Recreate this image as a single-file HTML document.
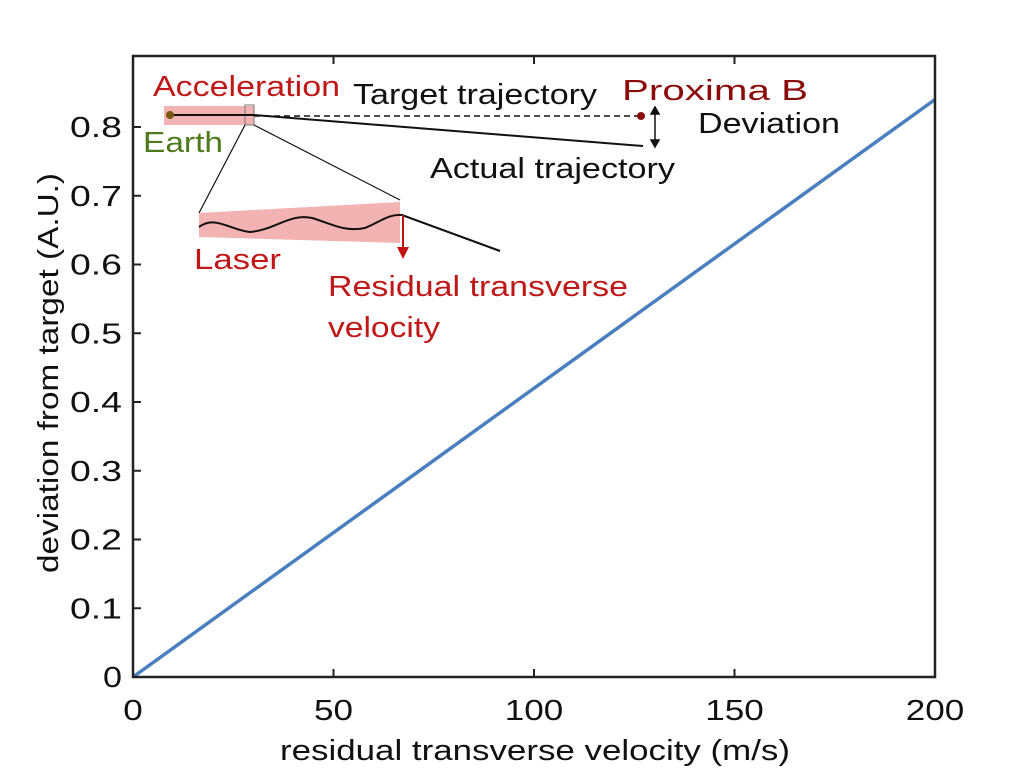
<!DOCTYPE html>
<html><head><meta charset="utf-8"><style>
html,body{margin:0;padding:0;background:#fff;}
svg{display:block;font-family:"Liberation Sans",sans-serif;}
</style></head><body>
<svg id="chart" width="1024" height="768" viewBox="0 0 1024 768">
<g id="plot"></g>
</svg>
<script>
const xTicks=[0,50,100,150,200];
const yTicks=[0,0.1,0.2,0.3,0.4,0.5,0.6,0.7,0.8];
const lineX=[0,200];
const lineY=[0,0.84];
const L=133,R=935,T=56,B=677;
const xs=v=>L+(v-0)/(200-0)*(R-L);
const ys=v=>B-v/0.8*(B-127);
const NS="http://www.w3.org/2000/svg";
const svg=document.getElementById('chart');
function mk(tag,attrs,text){const e=document.createElementNS(NS,tag);for(const k in attrs)e.setAttribute(k,attrs[k]);if(text!==undefined)e.textContent=text;svg.appendChild(e);return e;}
let pts=lineX.map((x,i)=>xs(x)+','+ys(lineY[i])).join(' ');
let ln=mk('polyline',{points:pts,fill:'none',stroke:'#4a7fbf','stroke-width':3.5});


let bx=mk('rect',{x:L,y:T,width:R-L,height:B-T,fill:'none',stroke:'#222','stroke-width':2.5});


xTicks.forEach(v=>{
 const x=xs(v);
 let t=mk('line',{x1:x,y1:B,x2:x,y2:B-8,stroke:'#222','stroke-width':2});
 
 
 let t2=mk('line',{x1:x,y1:T,x2:x,y2:T+8,stroke:'#222','stroke-width':2});
 
 
 const s=String(v);
 let l=mk('text',{x:x,y:B+43,'text-anchor':'middle','font-size':29,fill:'#111',textLength:s.length*19.5,lengthAdjust:'spacingAndGlyphs'},s);
 
 
});
yTicks.forEach(v=>{
 const y=ys(v);
 let t=mk('line',{x1:L,y1:y,x2:L+8,y2:y,stroke:'#222','stroke-width':2});
 
 
 const s=v===0?'0':v.toFixed(1);
 let l=mk('text',{x:L-11,y:y+10,'text-anchor':'end','font-size':29,fill:'#111',textLength:v===0?19:52,lengthAdjust:'spacingAndGlyphs'},s);
 
 
});
let xt=mk('text',{x:535,y:760,'text-anchor':'middle','font-size':29,fill:'#111',textLength:510,lengthAdjust:'spacingAndGlyphs'},'residual transverse velocity (m/s)');


let yt=mk('text',{x:0,y:0,'text-anchor':'middle','font-size':29,fill:'#111',textLength:400,lengthAdjust:'spacingAndGlyphs',transform:'translate(58,373) rotate(-90)'},'deviation from target (A.U.)');


</script>
<svg style="position:absolute;left:0;top:0" width="1024" height="768" font-family="Liberation Sans, sans-serif">
<rect x="164" y="106" width="90" height="19" fill="#f0a0a0" opacity="0.8"/>
<rect x="245" y="105" width="9" height="20" fill="none" stroke="#777" stroke-width="1"/>
<line x1="254" y1="116" x2="640" y2="116" stroke="#111" stroke-width="1.5" stroke-dasharray="6,4"/>
<polyline points="170,115 254,115 643,146" fill="none" stroke="#111" stroke-width="2"/>
<circle cx="170" cy="115" r="4" fill="#7a5a10"/>
<circle cx="641" cy="116" r="4" fill="#8b0a0a"/>
<g stroke="#111" stroke-width="1.5" fill="#111">
<line x1="655" y1="112" x2="655" y2="142"/>
<polygon points="655,107 651,114 659,114"/><polygon points="655,147 651,140 659,140"/>
</g>
<line x1="245" y1="125" x2="199" y2="213" stroke="#111" stroke-width="1.2"/>
<line x1="254" y1="125" x2="400" y2="200" stroke="#111" stroke-width="1.2"/>
<polygon points="199,213 400,202 400,243 199,237" fill="#f0a0a0" opacity="0.8"/>
<path d="M199,227 C215,215 230,230 250,232 C275,230 290,213 312,218 C335,225 345,232 365,228 C380,222 388,214 402,215 L500,251" fill="none" stroke="#111" stroke-width="2"/>
<g><line x1="403" y1="215" x2="403" y2="250" stroke="#c01010" stroke-width="2"/><polygon points="403,259 397,247 409,247" fill="#c01010"/></g>
<text x="153" y="96" font-size="29" fill="#c01818" textLength="187" lengthAdjust="spacingAndGlyphs">Acceleration</text>
<text x="353" y="104" font-size="29" fill="#111" textLength="244" lengthAdjust="spacingAndGlyphs">Target trajectory</text>
<text x="622" y="100" font-size="29" fill="#8b0a0a" textLength="186" lengthAdjust="spacingAndGlyphs">Proxima B</text>
<text x="698" y="133" font-size="29" fill="#111" textLength="142" lengthAdjust="spacingAndGlyphs">Deviation</text>
<text x="143" y="152" font-size="29" fill="#4e7a1c" textLength="80" lengthAdjust="spacingAndGlyphs">Earth</text>
<text x="430" y="178" font-size="29" fill="#111" textLength="245" lengthAdjust="spacingAndGlyphs">Actual trajectory</text>
<text x="194" y="269" font-size="29" fill="#c01818" textLength="87" lengthAdjust="spacingAndGlyphs">Laser</text>
<text x="328" y="296" font-size="29" fill="#c01818" textLength="300" lengthAdjust="spacingAndGlyphs">Residual transverse</text>
<text x="328" y="337" font-size="29" fill="#c01818" textLength="112" lengthAdjust="spacingAndGlyphs">velocity</text>
</svg>
</body></html>
